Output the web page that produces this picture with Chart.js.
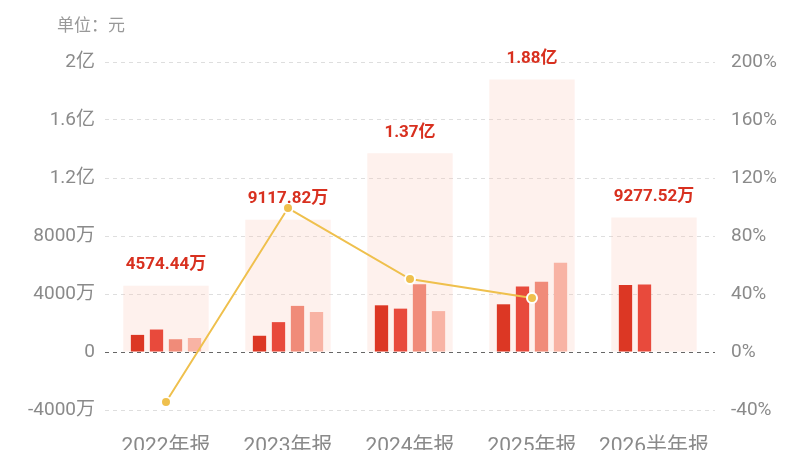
<!DOCTYPE html>
<html lang="zh">
<head>
    <meta charset="UTF-8">
    <title>营收对比</title>
    <style>
        body {
            margin: 0;
            background-color: #fff;
        }

        .wrap {
            position: relative;
            width: 800px;
            height: 450px;
        }

        #unit {
            position: absolute;
            left: 57px;
            top: 11px;
            font-family: 'Noto Sans CJK SC', sans-serif;
            font-size: 17px;
            color: #999;
        }
    </style>
</head>
<body>
    <div class="wrap">
        <canvas id="chart" width="800" height="450"></canvas>
        <div id="unit">单位：元</div>
    </div>

    <script src="https://cdn.jsdelivr.net/npm/chart.js"></script>
    <script>
        // values in 万元
        const categories = ['2022年报', '2023年报', '2024年报', '2025年报', '2026半年报'];
        const totals = [4574.44, 9117.82, 13700, 18800, 9277.52];
        const totalLabels = ['4574.44万', '9117.82万', '1.37亿', '1.88亿', '9277.52万'];
        const q1 = [1180, 1120, 3220, 3290, 4625];
        const q2 = [1550, 2060, 2990, 4510, 4652.52];
        const q3 = [880, 3180, 4670, 4850, null];
        const q4 = [964.44, 2757.82, 2820, 6150, null];
        const growth = [-34.5, 99.3, 50.3, 37.2, null];
        const leftTickLabels = ['-4000万', '0', '4000万', '8000万', '1.2亿', '1.6亿', '2亿'];
        const rightTickLabels = ['-40%', '0%', '40%', '80%', '120%', '160%', '200%'];

        const fontFamily = "'Roboto', 'Noto Sans CJK SC', sans-serif";
        const tickColor = '#8a8a8a';

        const valueLabels = {
            id: 'valueLabels',
            afterDatasetsDraw(chart) {
                const ctx = chart.ctx;
                const meta = chart.getDatasetMeta(0);
                ctx.save();
                ctx.font = "bold 17px " + fontFamily;
                ctx.fillStyle = '#d8301f';
                ctx.textAlign = 'center';
                ctx.textBaseline = 'middle';
                meta.data.forEach(function(bar, i) {
                    ctx.fillText(totalLabels[i], bar.x, bar.y - 21);
                });
                ctx.restore();
            }
        };

        function smallBar(data, color, order) {
            return {
                type: 'bar',
                data: data,
                backgroundColor: color,
                yAxisID: 'y',
                order: order,
                categoryPercentage: 0.623,
                barPercentage: 0.7
            };
        }

        new Chart(document.getElementById('chart'), {
            data: {
                labels: categories,
                datasets: [
                    {
                        type: 'bar',
                        data: totals,
                        backgroundColor: 'rgba(250, 200, 185, 0.25)',
                        yAxisID: 'y',
                        grouped: false,
                        order: 10,
                        categoryPercentage: 1,
                        barPercentage: 0.7
                    },
                    smallBar(q1, '#dc3724', 1),
                    smallBar(q2, '#e84a3c', 2),
                    smallBar(q3, '#f08b79', 3),
                    smallBar(q4, '#f8b3a4', 4),
                    {
                        type: 'line',
                        data: growth,
                        yAxisID: 'y1',
                        order: 0,
                        borderColor: '#efc04d',
                        borderWidth: 2,
                        tension: 0,
                        pointRadius: 5,
                        pointBackgroundColor: '#efc04d',
                        pointBorderColor: '#fff',
                        pointBorderWidth: 2
                    }
                ]
            },
            options: {
                responsive: false,
                animation: false,
                layout: { padding: { top: 62, left: 0, right: 0, bottom: 0 } },
                plugins: {
                    legend: { display: false },
                    tooltip: { enabled: false }
                },
                scales: {
                    x: {
                        grid: { display: false },
                        border: { display: false },
                        ticks: {
                            color: tickColor,
                            padding: 16,
                            font: { family: fontFamily, size: 21 }
                        },
                        afterFit(scale) { scale.height = 40; }
                    },
                    y: {
                        position: 'left',
                        min: -4000,
                        max: 20000,
                        ticks: {
                            stepSize: 4000,
                            color: tickColor,
                            padding: 10,
                            font: { family: fontFamily, size: 19 },
                            callback: function(value, index) { return leftTickLabels[index]; }
                        },
                        grid: {
                            drawTicks: false,
                            color: function(c) { return c.tick && c.tick.value === 0 ? '#666' : '#dedede'; }
                        },
                        border: { display: false, dash: [4, 4] },
                        afterFit(scale) { scale.width = 105; }
                    },
                    y1: {
                        position: 'right',
                        min: -40,
                        max: 200,
                        ticks: {
                            stepSize: 40,
                            color: tickColor,
                            padding: 8,
                            font: { family: fontFamily, size: 19 },
                            callback: function(value, index) { return rightTickLabels[index]; }
                        },
                        grid: { display: false },
                        border: { display: false },
                        afterFit(scale) { scale.width = 85; }
                    }
                }
            },
            plugins: [valueLabels]
        });
    </script>
</body>
</html>
